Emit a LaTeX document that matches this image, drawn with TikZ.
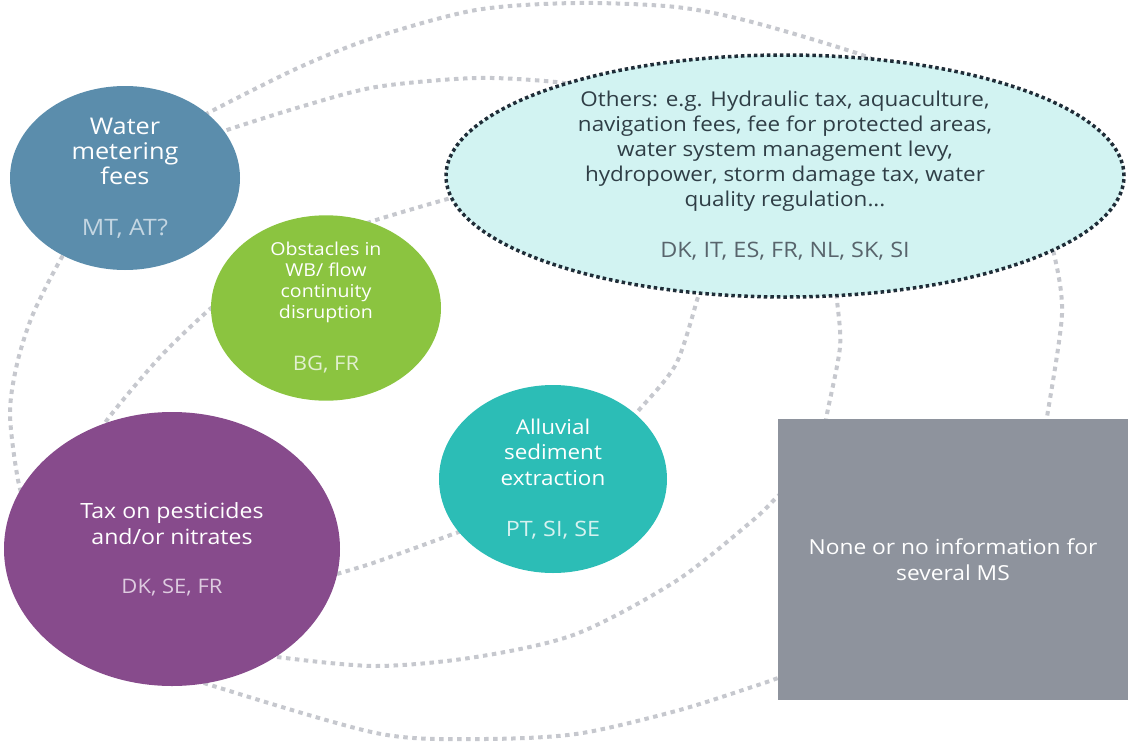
\documentclass[tikz,border=0pt]{standalone}
\usepackage{fontspec}
\setmainfont{Open Sans}[FakeStretch=1.1]
\usetikzlibrary{shapes.geometric}
\definecolor{wcol}{RGB}{91,141,172}
\definecolor{wcode}{RGB}{196,214,226}
\definecolor{ocol}{RGB}{139,196,64}
\definecolor{ocode}{RGB}{226,240,208}
\definecolor{ccol}{RGB}{210,243,242}
\definecolor{cborder}{RGB}{31,45,56}
\definecolor{ctext}{RGB}{47,62,70}
\definecolor{ccode}{RGB}{88,100,108}
\definecolor{acol}{RGB}{44,189,182}
\definecolor{acode}{RGB}{214,242,240}
\definecolor{tcol}{RGB}{135,75,140}
\definecolor{tcode}{RGB}{222,204,224}
\definecolor{gcol}{RGB}{142,147,157}
\definecolor{dotcol}{RGB}{198,200,206}
\begin{document}
\begin{tikzpicture}[x=1pt,y=-1pt,
  blob/.style={ellipse, inner sep=0pt, align=center, text=white},
  dotline/.style={draw=dotcol, line width=4pt, dash pattern=on 4.5pt off 4.5pt},
  ]
\useasboundingbox (0,0) rectangle (1128,742);
% dotted outline arcs (drawn behind the shapes)
\draw[dotline] plot[smooth] coordinates {(80,235) (62,257) (33,314) (17,364) (10,414) (18,480) (30,520)};
\draw[dotline] plot[smooth] coordinates {(235,292) (210,309) (160,357) (107,420) (95,445)};
\draw[dotline] plot[smooth] coordinates {(190,125) (208,113) (300,67) (376,37) (476,10) (576,3) (676,7) (752,22) (862,55) (900,75)};
\draw[dotline] plot[smooth] coordinates {(210,137) (227,130) (300,107) (376,87) (476,78) (556,82) (600,90)};
\draw[dotline] plot[smooth] coordinates {(350,230) (376,220) (451,198) (480,192)};
\draw[dotline] plot[smooth] coordinates {(703,280) (698,297) (676,364) (639,410) (625,425)};
\draw[dotline] plot[smooth] coordinates {(836,285) (837,300) (840,347) (827,414) (825,430)};
\draw[dotline] plot[smooth] coordinates {(1045,235) (1054,254) (1062,314) (1047,417) (1044,430)};
\draw[dotline] plot[smooth] coordinates {(320,580) (337,574) (376,562) (456,533) (470,528)};
\draw[dotline] plot[smooth] coordinates {(260,652) (277,657) (376,666) (476,657) (576,634) (676,581) (752,521) (776,498) (790,485)};
\draw[dotline] plot[smooth] coordinates {(190,676) (207,684) (376,733) (476,739) (576,734) (676,711) (752,687) (778,678) (790,673)};
% shapes
\node[blob, fill=wcol, minimum width=230pt, minimum height=184pt,
      font=\fontsize{23}{25}\selectfont] (water) at (125,178)
  {Water\\metering\\fees\\[26pt]{\fontsize{22.6}{25}\selectfont\color{wcode}MT, AT?}};
\node[blob, fill=ocol, minimum width=230pt, minimum height=184pt,
      font=\fontsize{17.8}{21}\selectfont] (obst) at (326,308)
  {Obstacles in\\WB/ flow\\continuity\\disruption\\[31pt]{\fontsize{20}{21}\selectfont\color{ocode}BG, FR}};
\node[blob, fill=ccol, draw=cborder, line width=3.5pt, dash pattern=on 3.5pt off 3pt,
      minimum width=678pt, minimum height=242pt, text=ctext,
      font=\fontsize{20.4}{25}\selectfont] (others) at (785,176)
  {Others: e.g. Hydraulic tax, aquaculture,\\navigation fees, fee for protected areas,\\water system management levy,\\hydropower, storm damage tax, water\\quality regulation...\\[26pt]{\fontsize{21.3}{25}\selectfont\color{ccode}DK, IT, ES, FR, NL, SK, SI}};
\node[blob, fill=acol, minimum width=228pt, minimum height=188pt,
      font=\fontsize{20.4}{25.5}\selectfont] (alluv) at (553,479)
  {Alluvial\\sediment\\extraction\\[25.5pt]{\fontsize{21.2}{25}\selectfont\color{acode}PT, SI, SE}};
\node[blob, fill=tcol, minimum width=336pt, minimum height=274pt,
      font=\fontsize{21}{26}\selectfont] (tax) at (172,549)
  {Tax on pesticides\\and/or nitrates\\[23pt]{\fontsize{20}{25}\selectfont\color{tcode}DK, SE, FR}};
\node[rectangle, fill=gcol, inner sep=0pt, minimum width=350pt, minimum height=281pt,
      align=center, text=white, font=\fontsize{20.7}{26}\selectfont] (none) at (953,559.5)
  {None or no information for\\several MS};
\end{tikzpicture}
\end{document}
